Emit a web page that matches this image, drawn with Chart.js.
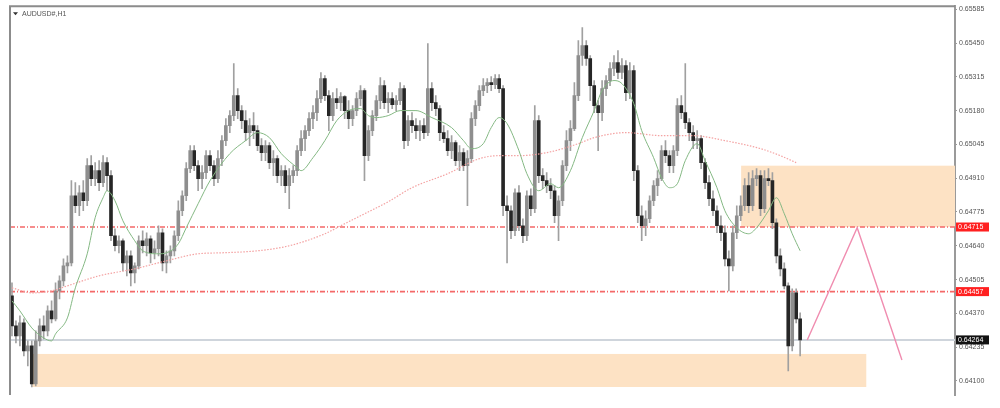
<!DOCTYPE html>
<html><head><meta charset="utf-8">
<script src="https://cdn.jsdelivr.net/npm/chart.js@4.4.1/dist/chart.umd.min.js"></script>
<style>html,body{margin:0;padding:0;background:#fff;overflow:hidden}</style>
</head><body>
<canvas id="c" width="1000" height="408"></canvas>
<script>
const symbolTitle = "AUDUSD#,H1";

const openP = [
0.64440,0.64320,0.64280,0.64332,0.64220,0.64240,0.64088,0.64260,0.64320,0.64300,
0.64380,0.64348,0.64460,0.64500,0.64560,0.64572,0.64840,0.64800,0.64852,0.64820,
0.64960,0.64908,0.64940,0.64892,0.64972,0.64920,0.64680,0.64640,0.64660,0.64572,
0.64600,0.64532,0.64560,0.64660,0.64640,0.64668,0.64612,0.64628,0.64692,0.64572,
0.64600,0.64620,0.64680,0.64780,0.64840,0.64948,0.65020,0.64960,0.64908,0.64932,
0.65000,0.64960,0.64908,0.64988,0.65060,0.65120,0.65160,0.65240,0.65180,0.65140,
0.65092,0.65120,0.65100,0.65040,0.65012,0.65040,0.64972,0.64988,0.64920,0.64940,
0.64880,0.64920,0.64940,0.65020,0.65068,0.65100,0.65148,0.65172,0.65228,0.65308,
0.65240,0.65160,0.65228,0.65212,0.65236,0.65180,0.65148,0.65180,0.65228,0.65260,
0.65000,0.65100,0.65160,0.65220,0.65280,0.65212,0.65228,0.65204,0.65220,0.65268,
0.65060,0.65140,0.65120,0.65100,0.65120,0.65092,0.65268,0.65212,0.65188,0.65092,
0.65068,0.65020,0.65052,0.64980,0.65012,0.64960,0.64988,0.65148,0.65200,0.65260,
0.65280,0.65292,0.65284,0.65308,0.65268,0.64800,0.64780,0.64700,0.64852,0.64720,
0.64680,0.64840,0.64788,0.65140,0.64920,0.64900,0.64880,0.64860,0.64760,0.64820,
0.64960,0.65060,0.65108,0.65240,0.65400,0.65440,0.65388,0.65280,0.65200,0.65172,
0.65268,0.65300,0.65348,0.65372,0.65332,0.65360,0.65252,0.65340,0.64940,0.64760,
0.64720,0.64748,0.64820,0.64880,0.64908,0.65020,0.65000,0.64960,0.65020,0.65200,
0.65172,0.65132,0.65092,0.65060,0.65068,0.64972,0.64892,0.64828,0.64780,0.64720,
0.64692,0.64588,0.64560,0.64692,0.64760,0.64800,0.64880,0.64800,0.64908,0.64920,
0.64788,0.64908,0.64900,0.64732,0.64600,0.64548,0.64480,0.64240,0.64452,0.64348
];
const highP = [
0.64492,0.64340,0.64360,0.64348,0.64260,0.64260,0.64300,0.64348,0.64360,0.64400,
0.64420,0.64492,0.64520,0.64588,0.64600,0.64900,0.64892,0.64880,0.64900,0.64988,
0.65000,0.64972,0.64980,0.65000,0.64992,0.64940,0.64708,0.64680,0.64668,0.64620,
0.64620,0.64572,0.64680,0.64700,0.64692,0.64680,0.64660,0.64720,0.64708,0.64620,
0.64640,0.64700,0.64820,0.64860,0.64972,0.65040,0.65040,0.64980,0.64960,0.65020,
0.65020,0.64980,0.65020,0.65080,0.65148,0.65180,0.65368,0.65268,0.65200,0.65180,
0.65148,0.65172,0.65120,0.65068,0.65060,0.65052,0.65020,0.65000,0.64960,0.64960,
0.64948,0.64960,0.65040,0.65100,0.65120,0.65172,0.65200,0.65260,0.65332,0.65320,
0.65260,0.65252,0.65268,0.65252,0.65240,0.65220,0.65200,0.65252,0.65280,0.65268,
0.65120,0.65180,0.65240,0.65312,0.65300,0.65252,0.65252,0.65240,0.65292,0.65280,
0.65160,0.65172,0.65148,0.65140,0.65148,0.65448,0.65292,0.65240,0.65200,0.65120,
0.65100,0.65080,0.65060,0.65040,0.65028,0.65020,0.65172,0.65220,0.65280,0.65308,
0.65308,0.65316,0.65324,0.65324,0.65280,0.64840,0.64800,0.64868,0.64880,0.64748,
0.64860,0.64868,0.65200,0.65160,0.64948,0.64932,0.64908,0.64880,0.64840,0.64980,
0.65100,0.65140,0.65292,0.65460,0.65512,0.65460,0.65400,0.65300,0.65220,0.65300,
0.65320,0.65372,0.65400,0.65420,0.65388,0.65380,0.65372,0.65360,0.64960,0.64800,
0.64780,0.64840,0.64900,0.64940,0.65040,0.65060,0.65020,0.65040,0.65228,0.65240,
0.65368,0.65148,0.65120,0.65100,0.65080,0.64988,0.64920,0.64860,0.64800,0.64760,
0.64720,0.64620,0.64720,0.64800,0.64840,0.64908,0.64932,0.64940,0.64948,0.64940,
0.64940,0.64948,0.64932,0.64748,0.64628,0.64572,0.64492,0.64468,0.64468,0.64372
];
const lowP = [
0.64280,0.64252,0.64240,0.64200,0.64160,0.64076,0.64080,0.64240,0.64268,0.64280,
0.64332,0.64340,0.64428,0.64480,0.64532,0.64560,0.64772,0.64760,0.64780,0.64800,
0.64880,0.64880,0.64860,0.64876,0.64860,0.64660,0.64620,0.64612,0.64540,0.64520,
0.64480,0.64492,0.64548,0.64612,0.64600,0.64572,0.64588,0.64600,0.64540,0.64532,
0.64572,0.64600,0.64660,0.64760,0.64820,0.64932,0.64940,0.64860,0.64868,0.64908,
0.64940,0.64880,0.64892,0.64960,0.65040,0.65092,0.65140,0.65148,0.65108,0.65060,
0.65040,0.65068,0.65020,0.64980,0.64980,0.64948,0.64920,0.64892,0.64880,0.64852,
0.64788,0.64892,0.64920,0.65000,0.65020,0.65080,0.65108,0.65140,0.65212,0.65220,
0.65100,0.65140,0.65188,0.65180,0.65148,0.65108,0.65120,0.65160,0.65200,0.64900,
0.64980,0.65080,0.65140,0.65188,0.65188,0.65172,0.65188,0.65180,0.65204,0.65028,
0.65040,0.65092,0.65068,0.65060,0.65068,0.65080,0.65180,0.65160,0.65060,0.65052,
0.65000,0.64988,0.64960,0.64940,0.64940,0.64800,0.64972,0.65120,0.65180,0.65240,
0.65252,0.65260,0.65268,0.65252,0.64760,0.64572,0.64668,0.64680,0.64700,0.64652,
0.64660,0.64760,0.64772,0.64892,0.64868,0.64852,0.64828,0.64732,0.64660,0.64800,
0.64940,0.65020,0.65100,0.65220,0.65360,0.65360,0.65220,0.65172,0.65020,0.65140,
0.65240,0.65280,0.65320,0.65308,0.65308,0.65220,0.65228,0.64900,0.64732,0.64660,
0.64680,0.64732,0.64800,0.64840,0.64900,0.64972,0.64932,0.64932,0.65000,0.65148,
0.65108,0.65060,0.65028,0.65028,0.64948,0.64868,0.64800,0.64760,0.64692,0.64660,
0.64560,0.64460,0.64540,0.64668,0.64740,0.64780,0.64772,0.64780,0.64880,0.64760,
0.64772,0.64880,0.64708,0.64572,0.64520,0.64468,0.64140,0.64220,0.64332,0.64200
];
const closeP = [
0.64320,0.64280,0.64332,0.64220,0.64240,0.64088,0.64260,0.64320,0.64300,0.64380,
0.64348,0.64460,0.64500,0.64560,0.64572,0.64840,0.64800,0.64852,0.64820,0.64960,
0.64908,0.64940,0.64892,0.64972,0.64920,0.64680,0.64640,0.64660,0.64572,0.64600,
0.64532,0.64560,0.64660,0.64640,0.64668,0.64612,0.64628,0.64692,0.64572,0.64600,
0.64620,0.64680,0.64780,0.64840,0.64948,0.65020,0.64960,0.64908,0.64932,0.65000,
0.64960,0.64908,0.64988,0.65060,0.65120,0.65160,0.65240,0.65180,0.65140,0.65092,
0.65120,0.65100,0.65040,0.65012,0.65040,0.64972,0.64988,0.64920,0.64940,0.64880,
0.64920,0.64940,0.65020,0.65068,0.65100,0.65148,0.65172,0.65228,0.65308,0.65240,
0.65160,0.65228,0.65212,0.65236,0.65180,0.65148,0.65180,0.65228,0.65260,0.65000,
0.65100,0.65160,0.65220,0.65280,0.65212,0.65228,0.65204,0.65220,0.65268,0.65060,
0.65140,0.65120,0.65100,0.65120,0.65092,0.65268,0.65212,0.65188,0.65092,0.65068,
0.65020,0.65052,0.64980,0.65012,0.64960,0.64988,0.65148,0.65200,0.65260,0.65280,
0.65292,0.65284,0.65308,0.65268,0.64800,0.64780,0.64700,0.64852,0.64720,0.64680,
0.64840,0.64788,0.65140,0.64920,0.64900,0.64880,0.64860,0.64760,0.64820,0.64960,
0.65060,0.65108,0.65240,0.65400,0.65440,0.65388,0.65280,0.65200,0.65172,0.65268,
0.65300,0.65348,0.65372,0.65332,0.65360,0.65252,0.65340,0.64940,0.64760,0.64720,
0.64748,0.64820,0.64880,0.64908,0.65020,0.65000,0.64960,0.65020,0.65200,0.65172,
0.65132,0.65092,0.65060,0.65068,0.64972,0.64892,0.64828,0.64780,0.64720,0.64692,
0.64588,0.64560,0.64692,0.64760,0.64800,0.64880,0.64800,0.64908,0.64920,0.64788,
0.64908,0.64900,0.64732,0.64600,0.64548,0.64480,0.64240,0.64452,0.64348,0.64264
];

// moving averages (bar index, price)
const maFastIdx = [0,2,5,8,10,11,14,16,19,21,23,24,26,28,31,33,37,39,42,44,47,50,55,59,62,65,68,72,73,76,79,82,85,88,90,92,95,98,102,106,111,114,116,119,121,123,125,128,130,133,136,138,141,144,147,149,152,154,157,159,162,164,166,168,170,173,175,178,180,183,186,188,191,193,195,197,199];
const maFastVal = [0.64420,0.64380,0.64312,0.64272,0.64260,0.64288,0.64352,0.64472,0.64608,0.64752,0.64832,0.64860,0.64820,0.64740,0.64660,0.64620,0.64608,0.64612,0.64648,0.64712,0.64808,0.64900,0.65008,0.65060,0.65092,0.65072,0.65008,0.64952,0.64940,0.64992,0.65060,0.65140,0.65180,0.65188,0.65160,0.65152,0.65160,0.65180,0.65180,0.65152,0.65112,0.65060,0.65028,0.65048,0.65112,0.65152,0.65128,0.65020,0.64928,0.64860,0.64888,0.64872,0.64940,0.65072,0.65180,0.65260,0.65300,0.65288,0.65208,0.65100,0.64992,0.64912,0.64872,0.64888,0.64980,0.65048,0.64980,0.64872,0.64780,0.64712,0.64688,0.64712,0.64780,0.64832,0.64768,0.64688,0.64620];
const maSlowIdx = [0,5,10,14,22,31,39,47,53,62,70,79,83,87,95,101,110,118,123,128,135,143,147,155,164,172,180,189,194,198];
const maSlowVal = [0.64472,0.64452,0.64460,0.64480,0.64520,0.64548,0.64580,0.64608,0.64612,0.64620,0.64640,0.64688,0.64720,0.64752,0.64816,0.64872,0.64928,0.64988,0.65000,0.65000,0.65012,0.65048,0.65072,0.65092,0.65080,0.65080,0.65060,0.65028,0.65000,0.64972];

const tickValues = [0.65585,0.65450,0.65315,0.65180,0.65045,0.64910,0.64775,0.64640,0.64505,0.64370,0.64235,0.64100];
const levelPrices = [0.64715, 0.64457];
const currentPrice = 0.64264;

// zones (bar index from/to, price top/bottom)
const zoneFrom = [184.1, 5.05];
const zoneTo = [238.1, 215.7];
const zoneTop = [0.64960, 0.64208];
const zoneBottom = [0.64715, 0.64076];

// projected path
const pathIdx = [200.8, 213.4, 224.7];
const pathVal = [0.64264, 0.64712, 0.64184];

const xMin = -0.5, xMax = 238.1, yMin = 0.64044, yMax = 0.65597;

const FONT = '"Liberation Sans", Arial, sans-serif';

const overlay = {
  id: 'overlay',
  beforeDatasetsDraw(chart) {
    const {ctx, chartArea: a, scales: {x, y}} = chart;
    ctx.save();
    ctx.fillStyle = 'rgb(253,226,196)';
    for (let k = 0; k < zoneFrom.length; k++) {
      const x1 = x.getPixelForValue(zoneFrom[k]);
      const x2 = Math.min(a.right, x.getPixelForValue(zoneTo[k]));
      const y1 = y.getPixelForValue(zoneTop[k]);
      const y2 = y.getPixelForValue(zoneBottom[k]);
      ctx.fillRect(x1, y1, x2 - x1, y2 - y1);
    }
    const yc = y.getPixelForValue(currentPrice);
    ctx.strokeStyle = '#cfd5dc'; ctx.lineWidth = 2;
    ctx.beginPath(); ctx.moveTo(a.left, yc); ctx.lineTo(a.right, yc); ctx.stroke();
    ctx.restore();
  },
  afterDraw(chart) {
    const {ctx, chartArea: a, scales: {y}} = chart;
    ctx.save();
    ctx.strokeStyle = '#8c8c8c'; ctx.lineWidth = 2;
    ctx.beginPath(); ctx.moveTo(a.left, a.bottom); ctx.lineTo(a.left, a.top); ctx.lineTo(a.right, a.top); ctx.stroke();
    ctx.fillStyle = '#333';
    ctx.beginPath(); ctx.moveTo(a.left + 3, a.top + 6); ctx.lineTo(a.left + 8, a.top + 6); ctx.lineTo(a.left + 5.5, a.top + 9); ctx.closePath(); ctx.fill();
    ctx.font = '7px ' + FONT; ctx.textBaseline = 'middle'; ctx.textAlign = 'left';
    ctx.fillStyle = '#555';
    ctx.fillText(symbolTitle, a.left + 12, a.top + 8);
    const box = (p, bg) => {
      const yy = y.getPixelForValue(p);
      ctx.fillStyle = bg; ctx.fillRect(a.right + 1, yy - 4.5, 33, 9);
      ctx.fillStyle = '#fff'; ctx.font = '7px ' + FONT;
      ctx.fillText(p.toFixed(5), a.right + 3, yy + 0.5);
    };
    levelPrices.forEach(p => box(p, '#ff2020'));
    box(currentPrice, '#111');
    ctx.restore();
  }
};

const bodyData = closeP.map((c, i) => ({x: i, y: [openP[i], c]}));
const wickData = closeP.map((c, i) => ({x: i, y: [lowP[i], highP[i]]}));
const levelSets = levelPrices.map((p, k) => ({
  type: 'line', label: 'level ' + k, data: [{x: xMin, y: p}, {x: xMax, y: p}],
  borderColor: 'rgb(244,104,104)', borderWidth: 1.6, borderDash: [5, 2, 1, 2], pointRadius: 0, order: 6
}));

new Chart(document.getElementById('c'), {
  type: 'bar',
  data: {
    datasets: [
      {type: 'line', label: 'path', data: pathIdx.map((v, k) => ({x: v, y: pathVal[k]})),
        borderColor: '#f08db0', borderWidth: 1.4, pointRadius: 0, order: 0},
      {type: 'line', label: 'MA fast', data: maFastIdx.map((v, k) => ({x: v, y: maFastVal[k]})),
        borderColor: '#84b883', borderWidth: 1, pointRadius: 0, cubicInterpolationMode: 'monotone', order: 1},
      {type: 'line', label: 'MA slow', data: maSlowIdx.map((v, k) => ({x: v, y: maSlowVal[k]})),
        borderColor: '#f4a2a2', borderWidth: 1.2, borderDash: [1.5, 1.5], pointRadius: 0, cubicInterpolationMode: 'monotone', order: 2},
      {label: 'body', data: bodyData, grouped: false, barThickness: 3, minBarLength: 1, order: 3,
        backgroundColor: c => (closeP[c.dataIndex] >= openP[c.dataIndex] ? '#8e8e8e' : '#262626')},
      {label: 'wick', data: wickData, grouped: false, barThickness: 1, order: 4, backgroundColor: '#a0a0a0'},
      ...levelSets
    ]
  },
  options: {
    responsive: false, animation: false, devicePixelRatio: 1,
    layout: {padding: {left: 10, top: 5, right: 0, bottom: 13}},
    plugins: {legend: {display: false}, tooltip: {enabled: false}},
    scales: {
      x: {type: 'linear', min: xMin, max: xMax, display: false, offset: false},
      y: {
        position: 'right', min: yMin, max: yMax,
        afterBuildTicks: s => { s.ticks = tickValues.map(v => ({value: v})); },
        afterFit: s => { s.width = 45; },
        ticks: {font: {family: FONT, size: 7}, color: '#555', padding: 2, autoSkip: false,
          callback: v => Number(v).toFixed(5)},
        grid: {drawOnChartArea: false, drawTicks: true, tickLength: 2, color: '#999'},
        border: {display: true, color: '#9a9a9a', width: 2}
      }
    }
  },
  plugins: [overlay]
});
</script>
</body></html>
